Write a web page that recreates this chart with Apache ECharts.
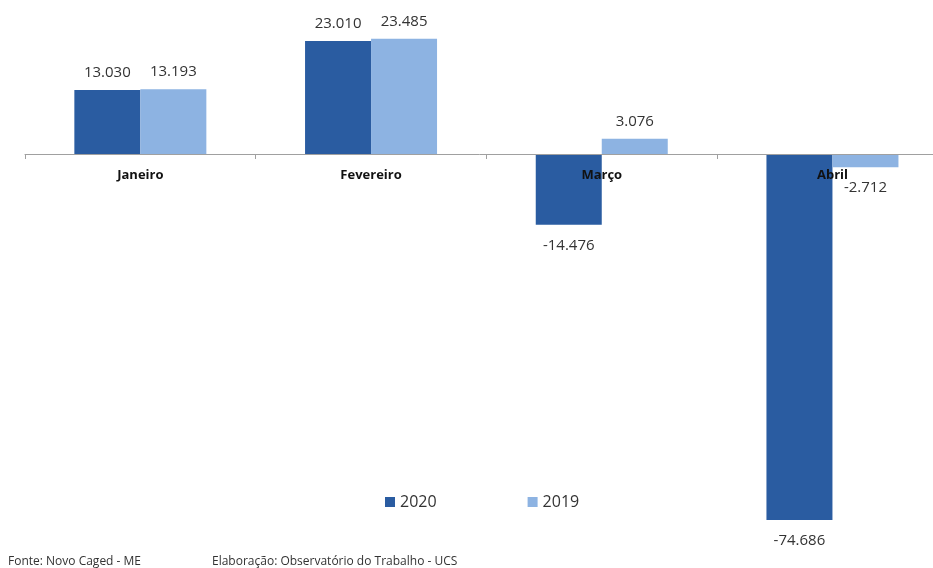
<!DOCTYPE html>
<html>
<head>
<meta charset="utf-8">
<script src="https://cdn.jsdelivr.net/npm/echarts@6/dist/echarts.min.js"></script>
<style>
html,body{margin:0;padding:0;background:#fff;}
#c{width:933px;height:568px;}
</style>
</head>
<body>
<div id="c"></div>
<script>
const categories = ['Janeiro', 'Fevereiro', 'Março', 'Abril'];
const values2020 = [13030, 23010, -14476, -74686];
const values2019 = [13193, 23485, 3076, -2712];
const seriesNames = ['2020', '2019'];
const footerSource = 'Fonte: Novo Caged - ME';
const footerAuthor = 'Elaboração: Observatório do Trabalho - UCS';

function fmt(v) {
  const neg = v < 0;
  let s = String(Math.abs(v));
  s = s.replace(/\B(?=(\d{3})+(?!\d))/g, '.');
  return (neg ? '-' : '') + s;
}
function toData(arr) {
  return arr.map(v => ({
    value: v,
    label: { position: v < 0 ? 'bottom' : 'top', distance: v < 0 ? 13 : 10 }
  }));
}

const chart = echarts.init(document.getElementById('c'));
const labelStyle = {
  show: true,
  formatter: p => fmt(p.value),
  fontFamily: 'Open Sans',
  fontSize: 15,
  color: '#333333'
};
chart.setOption({
  animation: false,
  backgroundColor: '#ffffff',
  grid: { left: 25, top: 0, width: 922.8, height: 546, containLabel: false, outerBoundsMode: 'none' },
  xAxis: {
    type: 'category',
    data: categories,
    position: 'top',
    offset: -154,
    z: 5,
    axisLine: { onZero: false, lineStyle: { color: '#a0a0a0', width: 1 } },
    axisTick: { show: true, inside: true, length: 5, alignWithLabel: false, lineStyle: { color: '#a0a0a0' } },
    axisLabel: { inside: true, margin: 15, fontFamily: 'Open Sans', fontWeight: 'bold', fontSize: 13, color: '#111111' }
  },
  yAxis: {
    type: 'value',
    min: -80000,
    max: 31400,
    show: false,
    splitLine: { show: false }
  },
  legend: {
    data: seriesNames,
    left: 380,
    top: 489,
    icon: 'rect',
    itemWidth: 10,
    itemHeight: 10,
    itemGap: 91,
    textStyle: { fontFamily: 'Open Sans', fontSize: 16, color: '#333333' }
  },
  series: [
    {
      name: seriesNames[0], type: 'bar', data: toData(values2020),
      barWidth: 66, barGap: '0%',
      itemStyle: { color: '#2A5CA1' },
      label: labelStyle
    },
    {
      name: seriesNames[1], type: 'bar', data: toData(values2019),
      barWidth: 66, barGap: '0%',
      itemStyle: { color: '#8DB3E2' },
      label: labelStyle
    }
  ],
  graphic: [
    { type: 'text', left: 8, top: 556, style: { text: footerSource, fontFamily: 'Open Sans', fontSize: 12, fill: '#333333' } },
    { type: 'text', left: 212, top: 556, style: { text: footerAuthor, fontFamily: 'Open Sans', fontSize: 12, fill: '#333333' } }
  ]
});
</script>
</body>
</html>
